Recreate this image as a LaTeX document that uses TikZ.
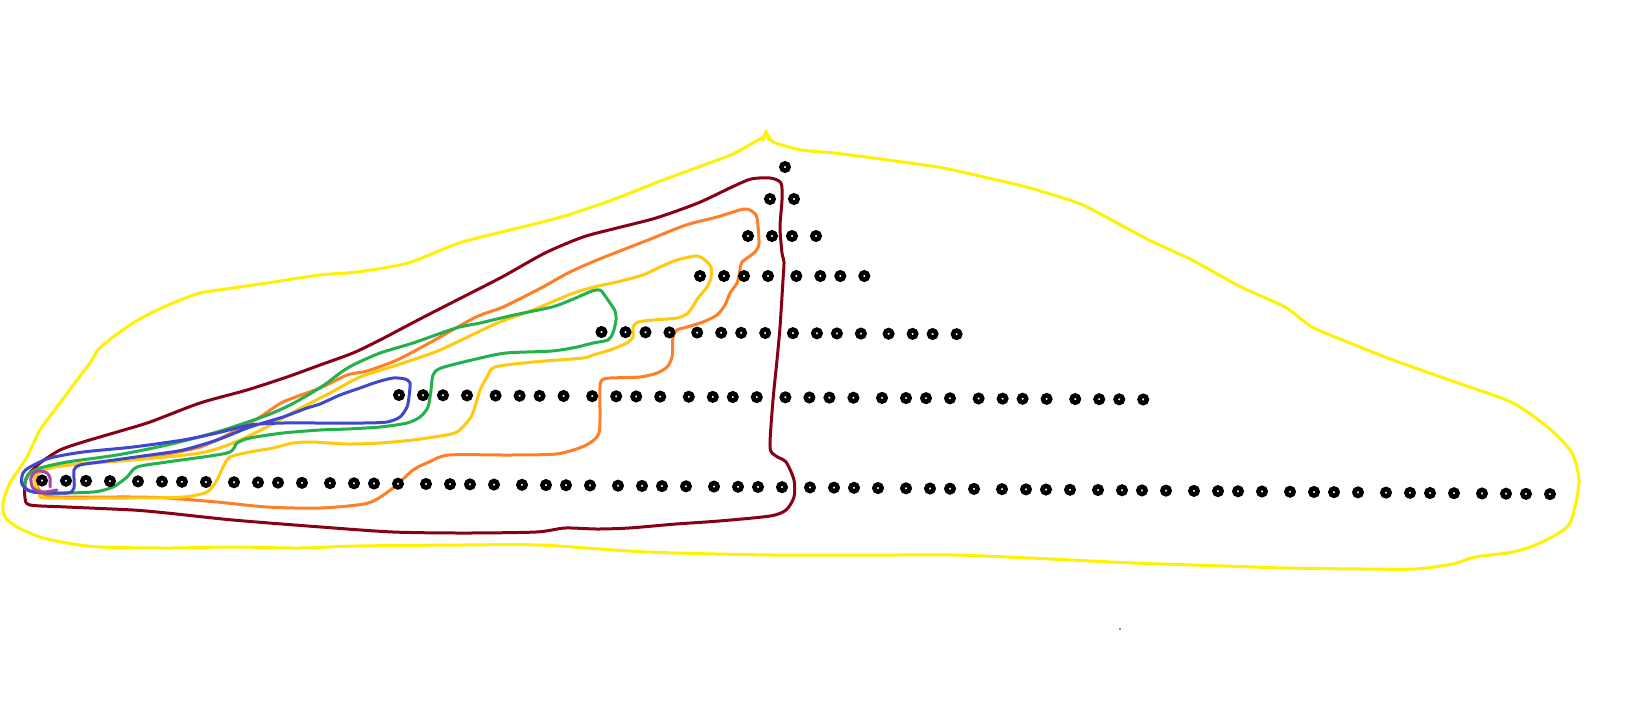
\documentclass[tikz,border=0pt]{standalone}
\definecolor{hlyellow}{HTML}{FFF200}
\definecolor{hldarkred}{HTML}{880015}
\definecolor{hlorange}{HTML}{FF7F27}
\definecolor{hlgold}{HTML}{FFC90E}
\definecolor{hlgreen}{HTML}{22B14C}
\definecolor{hlblue}{HTML}{3F48CC}
\definecolor{hlpurple}{HTML}{A349A4}
\definecolor{hlspeck}{HTML}{C86AC8}

\begin{document}
\begin{tikzpicture}[x=0.5pt,y=-0.5pt,
    contour/.style={line width=1.5pt, line join=round, line cap=round},
    dotring/.style={circle, draw=black, fill=white, line width=2.3pt, inner sep=0pt, minimum size=3.6pt}]
  \fill[white] (0,0) rectangle (1631,709);
  \useasboundingbox (0,0) rectangle (1631,709);
  % outer hull
  \draw[contour, hlyellow] plot[smooth cycle, tension=0.45] coordinates {
    (766,136) (773,142) (801,150) (834,153) (888,160) (943,168) (997,180) (1030,188)
    (1078,203) (1106,217) (1149,240) (1192,260) (1241,287) (1285,307) (1312,327) (1350,343)
    (1393,360) (1458,383) (1513,403) (1551,430) (1572,453) (1579,480) (1575,507) (1567,527)
    (1540,543) (1513,552) (1475,557) (1453,564) (1415,569) (1366,569) (1285,568) (1225,566)
    (1133,563) (1030,558) (954,555) (889,555) (772,555) (647,552) (540,545) (459,545)
    (357,546) (300,548) (233,547) (167,548) (100,547) (67,543) (40,537) (17,527) (5,517)
    (3,503) (10,483) (27,457) (40,430) (60,403) (77,380) (90,363) (98,350) (113,337)
    (133,323) (153,312) (173,303) (200,293) (233,288) (267,283) (320,275) (357,272)
    (408,263) (459,243) (510,230) (561,217) (612,200) (663,180) (704,165) (735,153)};
  \draw[contour, hlyellow] (763,140) -- (766,131) -- (769,140);
  % dark red
  \draw[contour, hldarkred] plot[smooth cycle, tension=0.45] coordinates {
    (418,320) (380,340) (353,353) (320,365) (287,377) (247,390) (200,403) (150,422)
    (117,432) (83,442) (60,450) (40,463) (28,475) (25,483) (25,498) (30,505) (67,507)
    (133,510) (167,513) (233,520) (321,527) (393,532) (464,533) (536,532) (565,528)
    (597,529) (629,528) (676,524) (719,521) (770,516) (786,510) (794,497) (794,480)
    (786,462) (776,456) (770,447) (773,400) (777,360) (780,327) (783,280) (784,262)
    (782,253) (780,227) (782,200) (781,183) (770,178) (751,179) (732,187) (698,203)
    (656,218) (617,228) (583,237) (545,253) (502,277) (457,300)};
  % orange
  \draw[contour, hlorange] plot[smooth cycle, tension=0.45] coordinates {
    (50,467) (100,462) (150,457) (200,447) (233,432) (260,417) (283,402) (320,388)
    (347,375) (367,371) (397,360) (433,341) (476,317) (503,307) (541,288) (568,273)
    (597,260) (648,240) (686,225) (717,217) (744,209) (753,212) (757,218) (759,243)
    (755,252) (742,262) (740,270) (737,283) (730,293) (725,305) (717,315) (703,322)
    (687,327) (677,330) (673,337) (672,357) (667,367) (657,373) (640,377) (610,378)
    (602,380) (600,387) (600,420) (599,433) (594,440) (582,447) (556,454) (510,455)
    (449,455) (429,462) (413,470) (393,488) (368,503) (320,508) (267,507) (217,502)
    (167,498) (133,497) (60,497) (45,495) (38,488) (35,478) (40,471)};
  % gold
  \draw[contour, hlgold] plot[smooth cycle, tension=0.45] coordinates {
    (43,470) (67,465) (133,460) (200,453) (233,443) (267,427) (297,410) (330,393)
    (360,377) (397,365) (440,350) (495,324) (533,310) (571,294) (594,287) (617,282)
    (643,275) (660,267) (677,260) (697,256) (706,261) (711,267) (711,278) (707,287)
    (698,298) (688,313) (677,318) (653,320) (638,322) (633,327) (633,337) (627,343)
    (610,350) (593,355) (583,358) (533,362) (495,367) (487,377) (480,390) (477,400)
    (471,417) (457,432) (440,436) (413,440) (380,443) (347,444) (313,442) (293,443)
    (273,448) (250,452) (230,457) (223,467) (217,480) (207,492) (183,497) (133,498)
    (47,498) (40,494) (36,486) (35,478)};
  % green
  \draw[contour, hlgreen] plot[smooth cycle, tension=0.45] coordinates {
    (40,468) (67,462) (117,455) (167,445) (217,432) (265,416) (290,405) (313,392)
    (327,383) (340,373) (353,365) (380,353) (413,343) (456,328) (480,323) (514,315)
    (552,307) (571,300) (592,291) (600,290) (603,293) (610,303) (615,311) (616,320)
    (613,333) (608,340) (593,343) (577,347) (552,351) (506,353) (476,359) (441,368)
    (433,375) (431,390) (428,407) (420,417) (407,423) (380,427) (347,429) (320,430)
    (283,433) (250,438) (237,443) (227,453) (167,462) (137,467) (127,477) (113,487)
    (93,492) (50,493) (27,490) (25,482) (30,473)};
  % blue
  \draw[contour, hlblue] plot[smooth cycle, tension=0.45] coordinates {
    (30,467) (50,458) (83,452) (133,447) (183,440) (217,433) (250,425) (283,423)
    (320,423) (363,423) (387,422) (400,417) (407,407) (409,397) (410,383) (405,379)
    (393,378) (377,382) (360,388) (340,395) (320,404) (307,408) (283,417) (250,427)
    (217,440) (183,450) (150,455) (100,462) (80,465) (74,470) (74,488) (67,493)
    (33,492) (22,484) (23,473)};
  % purple
  \draw[contour, hlpurple] plot[smooth, tension=0.5] coordinates {
    (50,487) (50,478) (47,473) (41,471) (35,472) (31,478) (33,488) (43,492) (57,490)};
  \fill[hlspeck] (1119,628) rectangle (1121,630);
  % tree rows, four dots to a group
  \foreach \row/\bx/\gs/\ng/\by/\sl in {7/42/96/15/480.5/0.009, 6/399/96.6/7/395/0.006,
      5/601.5/95.7/3/332/0.006, 4/700/96.3/1/276/0, 3/748/0/0/236/0}
    \foreach \g in {0,...,\ng}
      \foreach \o [count=\k] in {0,24,44,68}
        \node[dotring] (d\row-\g-\k) at ({\bx+\gs*\g+\o},{\by+\sl*(\gs*\g+\o)}) {};
  \node[dotring] (d2-1) at (770,199) {};
  \node[dotring] (d2-2) at (794,199) {};
  \node[dotring] (d1) at (785,167) {};
\end{tikzpicture}
\end{document}
